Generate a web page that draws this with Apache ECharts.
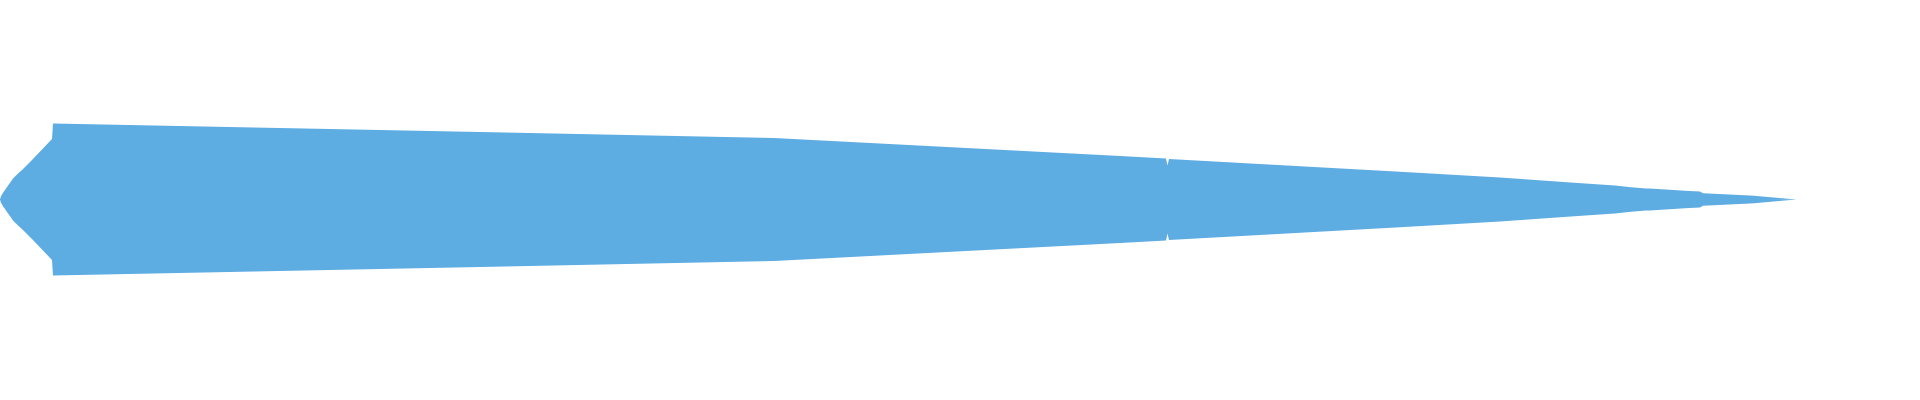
<!DOCTYPE html>
<html>
<head>
<meta charset="utf-8">
<script src="https://cdn.jsdelivr.net/npm/echarts@6/dist/echarts.min.js"></script>
<style>
  html, body { margin: 0; padding: 0; background: #ffffff; }
  #chart { width: 1920px; height: 400px; }
</style>
</head>
<body>
<div id="chart"></div>
<script>
// Position along the stream (x) and stream thickness at that position.
const positions = [0, 0.5, 1, 2, 3, 5, 7, 9, 11, 13, 17, 22, 32, 43, 52, 53, 480, 774, 1120, 1166, 1167.5, 1169, 1400, 1500, 1560, 1600, 1615, 1616, 1617, 1631, 1632, 1633, 1646, 1647, 1648, 1650, 1689, 1690, 1691, 1700, 1702, 1703, 1704, 1750, 1754, 1755, 1756, 1796];
const thickness = [0, 4, 6.6, 10.4, 13.6, 19, 25, 30.6, 36, 42, 50, 59, 79, 102, 121, 152, 135, 123, 87, 82, 68, 81, 55.6, 44, 35.6, 30, 28, 24, 27.5, 24.5, 21, 24.3, 22.2, 19, 22, 22, 16.8, 13.5, 16.6, 16, 15.6, 12.5, 15.4, 8.2, 7.6, 5, 7.4, 0];
const xMax = 1920;
const yRange = [-200.5, 199.5];
const streamColor = '#5dace2';

const upper = positions.map((x, i) => [x, thickness[i] / 2]);
const lower = positions.map((x, i) => [x, -thickness[i] / 2]);

const chart = echarts.init(document.getElementById('chart'), null, { renderer: 'canvas' });
function half(name, data, origin) {
  return {
    name: name,
    type: 'line',
    data: data,
    showSymbol: false,
    symbol: 'none',
    smooth: false,
    silent: true,
    lineStyle: { width: 0, color: streamColor },
    itemStyle: { color: streamColor },
    areaStyle: { color: streamColor, opacity: 1, origin: origin }
  };
}
chart.setOption({
  animation: false,
  backgroundColor: '#ffffff',
  grid: { left: 0, right: 0, top: 0, bottom: 0, containLabel: false },
  xAxis: { type: 'value', min: 0, max: xMax, show: false },
  yAxis: { type: 'value', min: yRange[0], max: yRange[1], show: false },
  series: [
    half('upper', upper, -0.6),
    half('lower', lower, 0.6)
  ]
});
</script>
</body>
</html>
